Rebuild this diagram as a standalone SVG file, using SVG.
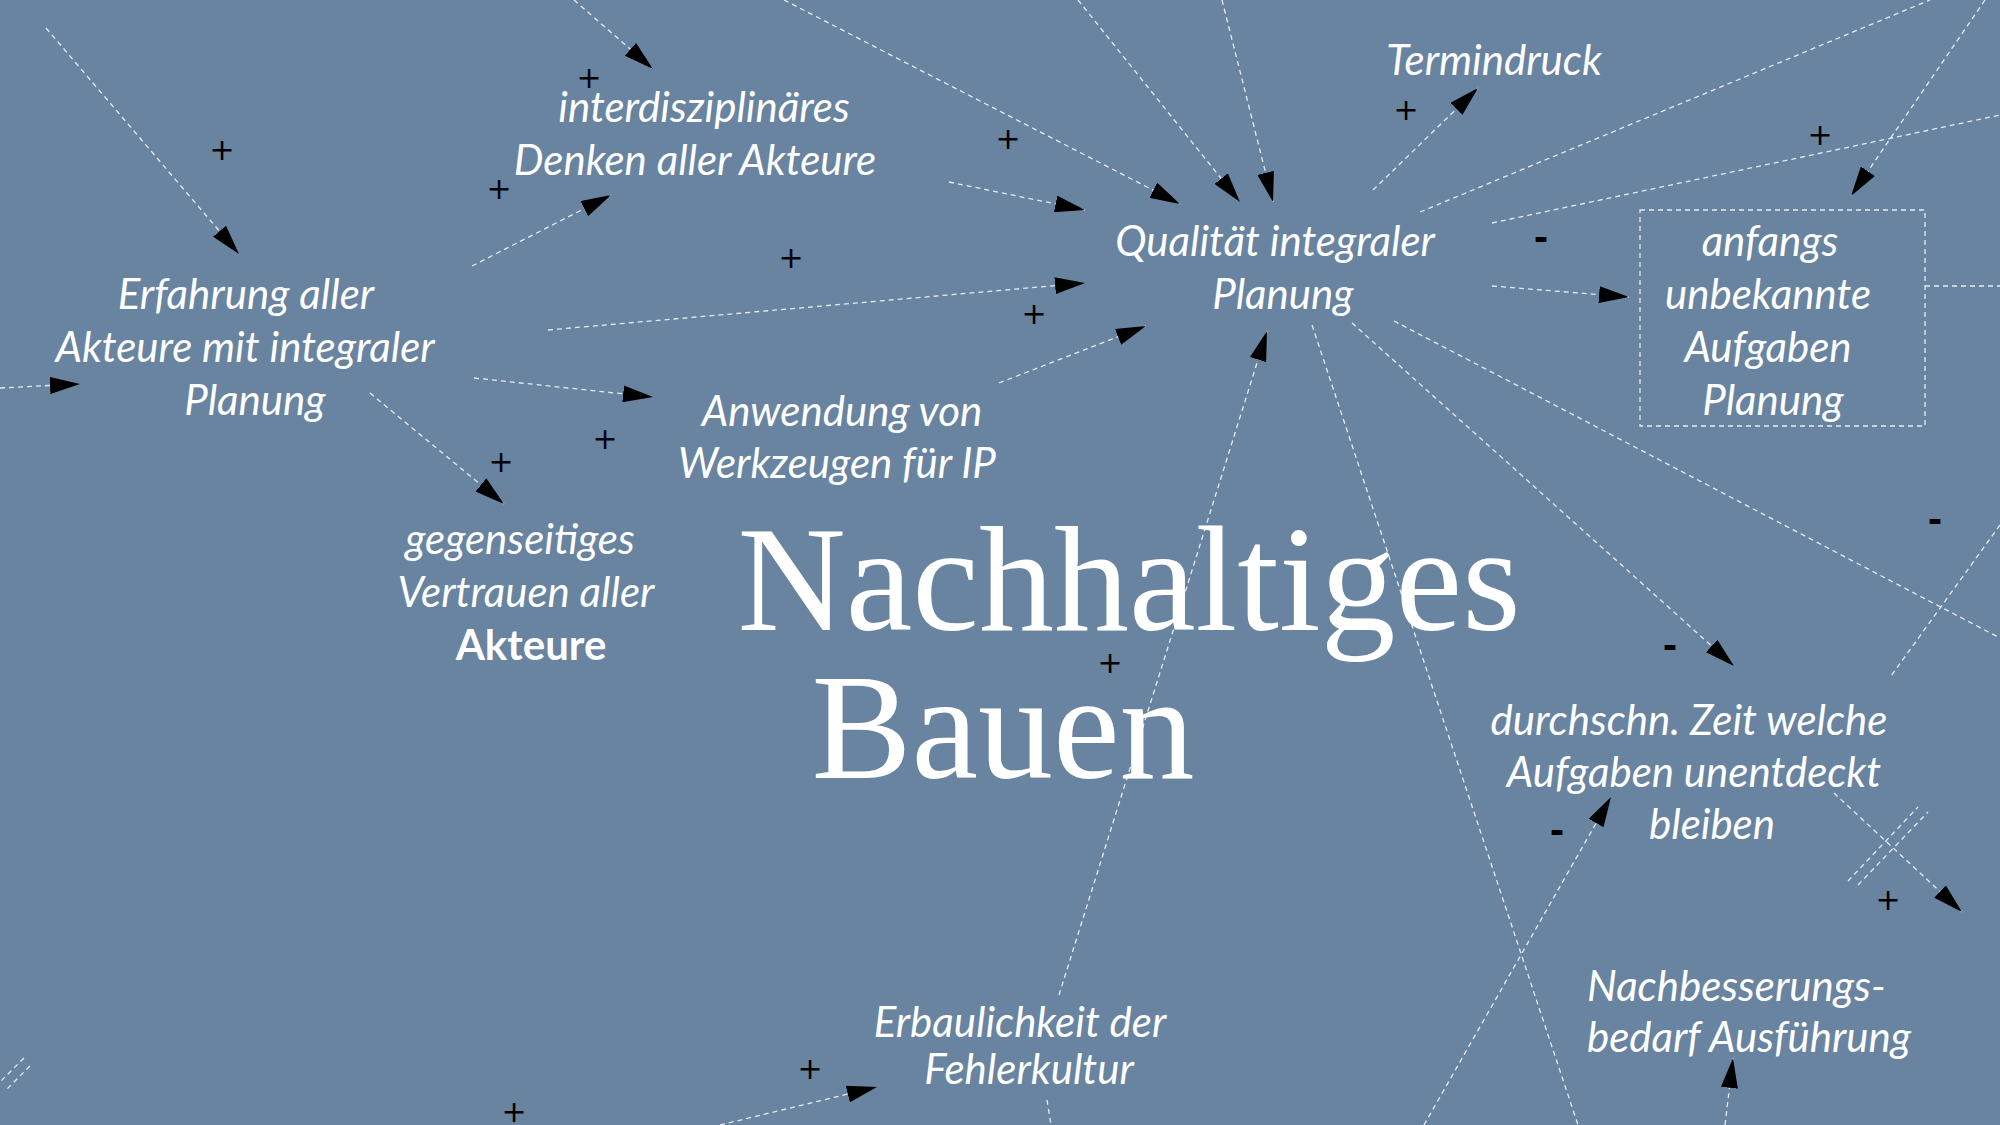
<svg xmlns="http://www.w3.org/2000/svg" width="2000" height="1125" viewBox="0 0 2000 1125">
<defs>
<style>
.lbl{font-family:"Lato","Open Sans",sans-serif;font-style:italic;font-size:42px;fill:#ffffff;text-anchor:middle}
.bold{font-style:normal;font-weight:bold}
.title{font-family:"Liberation Serif","Times New Roman",serif;font-size:150px;fill:#ffffff;text-anchor:middle}
.sign{font-family:"DejaVu Sans",sans-serif;font-size:30px;fill:#000000;text-anchor:middle}
.minus{font-weight:bold;font-size:35px}
.c{fill:none;stroke:#e6ebf1;stroke-width:1.3;stroke-dasharray:5 4}
.a{marker-end:url(#arr)}
.box{fill:none;stroke:#e6ebf1;stroke-width:1.3;stroke-dasharray:5 4}
</style>
<marker id="arr" viewBox="0 0 30 17" refX="30" refY="8.5" markerWidth="30" markerHeight="17" markerUnits="userSpaceOnUse" orient="auto">
<path d="M0,0 L30,8.5 L0,17 Z" fill="#000000"/>
</marker>
</defs>
<rect width="2000" height="1125" fill="#6984a0"/>
<g id="connectors">
<path class="c a" d="M574,0 L653,69"/>
<path class="c a" d="M46,28 L239,254"/>
<path class="c a" d="M472,266 L611,195"/>
<path class="c a" d="M784,0 L1180,204"/>
<path class="c a" d="M1078,0 L1240,202"/>
<path class="c a" d="M1222,0 L1273,202"/>
<path class="c a" d="M949,182 L1085,210"/>
<path class="c a" d="M548,330 L1085,283"/>
<path class="c a" d="M999,383 L1146,326"/>
<path class="c a" d="M474,378 L653,397"/>
<path class="c a" d="M370,393 L504,504"/>
<path class="c a" d="M0,388 L80,384"/>
<path class="c a" d="M1373,190 L1478,88"/>
<path class="c" d="M1420,212 L1930,0"/>
<path class="c" d="M1492,223 L2000,115"/>
<path class="c a" d="M1985,0 L1851,196"/>
<path class="c a" d="M1492,286 L1629,297"/>
<path class="c" d="M1925,286 L2000,286"/>
<path class="c a" d="M1352,323 L1734,666"/>
<path class="c" d="M1394,321 L2000,638"/>
<path class="c" d="M1312,325 L1578,1125"/>
<path class="c a" d="M1059,995 L1267,331"/>
<path class="c" d="M1047,1100 L1051,1125"/>
<path class="c a" d="M1424,1125 L1611,797"/>
<path class="c a" d="M1834,793 L1962,912"/>
<path class="c" d="M1848,881 L1918,807"/>
<path class="c" d="M1858,885 L1928,812"/>
<path class="c" d="M2000,525 L1891,676"/>
<path class="c a" d="M1725,1125 L1733,1058"/>
<path class="c a" d="M720,1125 L877,1087"/>
<path class="c" d="M24,1058 L0,1082"/>
<path class="c" d="M30,1066 L5,1091"/>
</g>
<g id="signs">
<text class="sign" x="589" y="88">+</text>
<text class="sign" x="222" y="160">+</text>
<text class="sign" x="499" y="199">+</text>
<text class="sign" x="1008" y="149">+</text>
<text class="sign" x="791" y="268">+</text>
<text class="sign" x="1034" y="324">+</text>
<text class="sign" x="1406" y="120">+</text>
<text class="sign" x="1820" y="145">+</text>
<text class="sign minus" x="1541" y="250">-</text>
<text class="sign" x="605" y="449">+</text>
<text class="sign" x="501" y="472">+</text>
<text class="sign" x="1110" y="673">+</text>
<text class="sign minus" x="1935" y="532">-</text>
<text class="sign minus" x="1670" y="658">-</text>
<text class="sign minus" x="1557" y="843">-</text>
<text class="sign" x="1888" y="910">+</text>
<text class="sign" x="810" y="1079">+</text>
<text class="sign" x="514" y="1122">+</text>
</g>
<g id="n-interdisziplinaeres">
<text class="lbl" x="704" y="122">interdisziplinäres</text>
<text class="lbl" x="695" y="175">Denken aller Akteure</text>
</g>
<g id="n-termindruck">
<text class="lbl" x="1494" y="75">Termindruck</text>
</g>
<g id="n-qualitaet">
<text class="lbl" x="1275" y="256">Qualität integraler</text>
<text class="lbl" x="1283" y="309">Planung</text>
</g>
<g id="n-anfangs">
<rect class="box" x="1640" y="210" width="285" height="216"/>
<text class="lbl" x="1770" y="256">anfangs</text>
<text class="lbl" x="1768" y="309">unbekannte</text>
<text class="lbl" x="1768" y="362">Aufgaben</text>
<text class="lbl" x="1773" y="415">Planung</text>
</g>
<g id="n-erfahrung">
<text class="lbl" x="246" y="309">Erfahrung aller</text>
<text class="lbl" x="245" y="362">Akteure mit integraler</text>
<text class="lbl" x="255" y="415">Planung</text>
</g>
<g id="n-anwendung">
<text class="lbl" x="842" y="426">Anwendung von</text>
<text class="lbl" x="837" y="478">Werkzeugen für IP</text>
</g>
<g id="n-vertrauen">
<text class="lbl" x="520" y="554">gegenseitiges</text>
<text class="lbl" x="526" y="607">Vertrauen aller</text>
<text class="lbl bold" x="531" y="660">Akteure</text>
</g>
<g id="n-title">
<text class="title" x="1129" y="630">Nachhaltiges</text>
<text class="title" x="1003" y="778">Bauen</text>
</g>
<g id="n-zeit">
<text class="lbl" x="1689" y="735">durchschn. Zeit welche</text>
<text class="lbl" x="1694" y="787">Aufgaben unentdeckt</text>
<text class="lbl" x="1712" y="839">bleiben</text>
</g>
<g id="n-nachbesserung">
<text class="lbl" x="1587" y="1001" style="text-anchor:start">Nachbesserungs-</text>
<text class="lbl" x="1587" y="1052" style="text-anchor:start">bedarf Ausführung</text>
</g>
<g id="n-erbaulichkeit">
<text class="lbl" x="1020" y="1037">Erbaulichkeit der</text>
<text class="lbl" x="1029" y="1084">Fehlerkultur</text>
</g>
</svg>
